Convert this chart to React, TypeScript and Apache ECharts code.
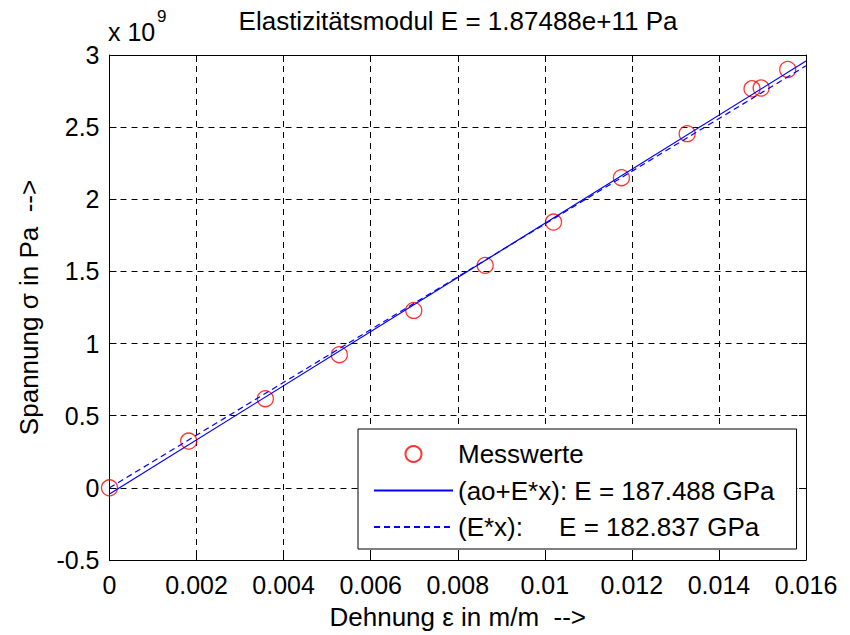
import React, { useEffect, useRef } from "react";
import * as echarts from "echarts";

// Measured data (strain in m/m, stress in 10^9 Pa)
const strain = [0, 0.00182, 0.00358, 0.00528, 0.00699, 0.00863, 0.0102, 0.01176, 0.01327, 0.01476, 0.01497, 0.01558];
const stressE9 = [0, 0.324, 0.618, 0.923, 1.23, 1.542, 1.842, 2.15, 2.455, 2.766, 2.771, 2.9];

// Fit lines (endpoints)
const fitX = [0, 0.016];
const fitAoY = [-0.042, 2.958]; // ao + E*x, E = 187.488 GPa
const fitEY = [0, 2.925]; // E*x, E = 182.837 GPa

const titleText = "Elastizitätsmodul E = 1.87488e+11 Pa";
const legendNames = ["Messwerte", "(ao+E*x): E = 187.488 GPa", "(E*x):\u00a0\u00a0\u00a0\u00a0 E = 182.837 GPa"];
const xName = "Dehnung ε in m/m \u00a0-->";
const yName = "Spannung σ in Pa \u00a0-->";

const FONT = "'Liberation Sans', Arial, Helvetica, sans-serif";

export default function App() {
  const ref = useRef<HTMLDivElement>(null);
  useEffect(() => {
    document.body.style.margin = "0";
    if (!ref.current) return;
    const chart = echarts.init(ref.current, null, { renderer: "svg" });
    const axisCommon = {
      axisLine: { show: true, onZero: false, lineStyle: { color: "#000", width: 1 } },
      axisTick: { show: true, inside: true, length: 7, lineStyle: { color: "#000", width: 1 } },
    };
    const option: any = {
      animation: false,
      backgroundColor: "#fff",
      textStyle: { fontFamily: FONT },
      title: {
        text: titleText,
        left: 458,
        top: 8,
        textAlign: "center",
        padding: 0,
        textStyle: { fontFamily: FONT, fontSize: 26, fontWeight: "normal", color: "#000" },
      },
      grid: { left: 109.5, right: 44, top: 55, bottom: 75, containLabel: false },
      xAxis: [
        {
          type: "value",
          min: 0,
          max: 0.016,
          interval: 0.002,
          position: "bottom",
          ...axisCommon,
          axisLabel: {
            margin: 12,
            fontSize: 25,
            fontFamily: FONT,
            color: "#000",
            formatter: (v: number) => String(parseFloat(v.toFixed(4))),
          },
          splitLine: { show: true, lineStyle: { color: "#000", width: 1, type: [6, 5] } },
          name: xName,
          nameLocation: "middle",
          nameGap: 44,
          nameTextStyle: { fontSize: 26, fontFamily: FONT, color: "#000" },
        },
        {
          type: "value",
          min: 0,
          max: 0.016,
          interval: 0.002,
          position: "top",
          ...axisCommon,
          axisLabel: { show: false },
          splitLine: { show: false },
        },
      ],
      yAxis: [
        {
          type: "value",
          min: -0.5,
          max: 3,
          interval: 0.5,
          position: "left",
          ...axisCommon,
          axisLabel: {
            margin: 10,
            fontSize: 25,
            fontFamily: FONT,
            color: "#000",
            formatter: (v: number) => String(parseFloat(v.toFixed(2))),
          },
          splitLine: { show: true, lineStyle: { color: "#000", width: 1, type: [6, 5] } },
          name: yName,
          nameLocation: "middle",
          nameGap: 68,
          nameRotate: 90,
          nameTextStyle: { fontSize: 26, fontFamily: FONT, color: "#000" },
        },
        {
          type: "value",
          min: -0.5,
          max: 3,
          interval: 0.5,
          position: "right",
          ...axisCommon,
          axisLabel: { show: false },
          splitLine: { show: false },
        },
      ],
      legend: {
        left: 358,
        top: 429,
        orient: "vertical",
        padding: [12, 22, 9, 15],
        itemWidth: 79,
        itemHeight: 16,
        itemGap: 10.5,
        borderColor: "#000",
        borderWidth: 1,
        borderRadius: 0,
        backgroundColor: "#fff",
        selectedMode: false,
        textStyle: { fontSize: 26, fontFamily: FONT, color: "#000" },
        data: [
          { name: legendNames[0] },
          { name: legendNames[1], itemStyle: { opacity: 0 } },
          { name: legendNames[2], itemStyle: { opacity: 0 } },
        ],
      },
      graphic: [
        {
          type: "text",
          x: 108,
          y: 32,
          style: { text: "x 10", font: `25px ${FONT}`, fill: "#000", verticalAlign: "middle" },
        },
        {
          type: "text",
          x: 157,
          y: 16,
          style: { text: "9", font: `17px ${FONT}`, fill: "#000", verticalAlign: "middle" },
        },
      ],
      series: [
        {
          name: legendNames[0],
          type: "scatter",
          symbol: "circle",
          symbolSize: 16,
          itemStyle: { color: "transparent", borderColor: "#ff0000", borderWidth: 1.3 },
          data: strain.map((x, i) => [x, stressE9[i]]),
          z: 2,
        },
        {
          name: legendNames[1],
          type: "line",
          symbol: "none",
          showSymbol: false,
          lineStyle: { color: "#0000ff", width: 1.2, type: "solid" },
          itemStyle: { color: "#0000ff", opacity: 0 },
          data: fitX.map((x, i) => [x, fitAoY[i]]),
          z: 3,
        },
        {
          name: legendNames[2],
          type: "line",
          symbol: "none",
          showSymbol: false,
          lineStyle: { color: "#0000ff", width: 1.2, type: [6, 4] },
          itemStyle: { color: "#0000ff", opacity: 0 },
          data: fitX.map((x, i) => [x, fitEY[i]]),
          z: 3,
        },
      ],
    };
    chart.setOption(option);
    return () => chart.dispose();
  }, []);
  return <div ref={ref} style={{ width: 850, height: 635 }} />;
}
